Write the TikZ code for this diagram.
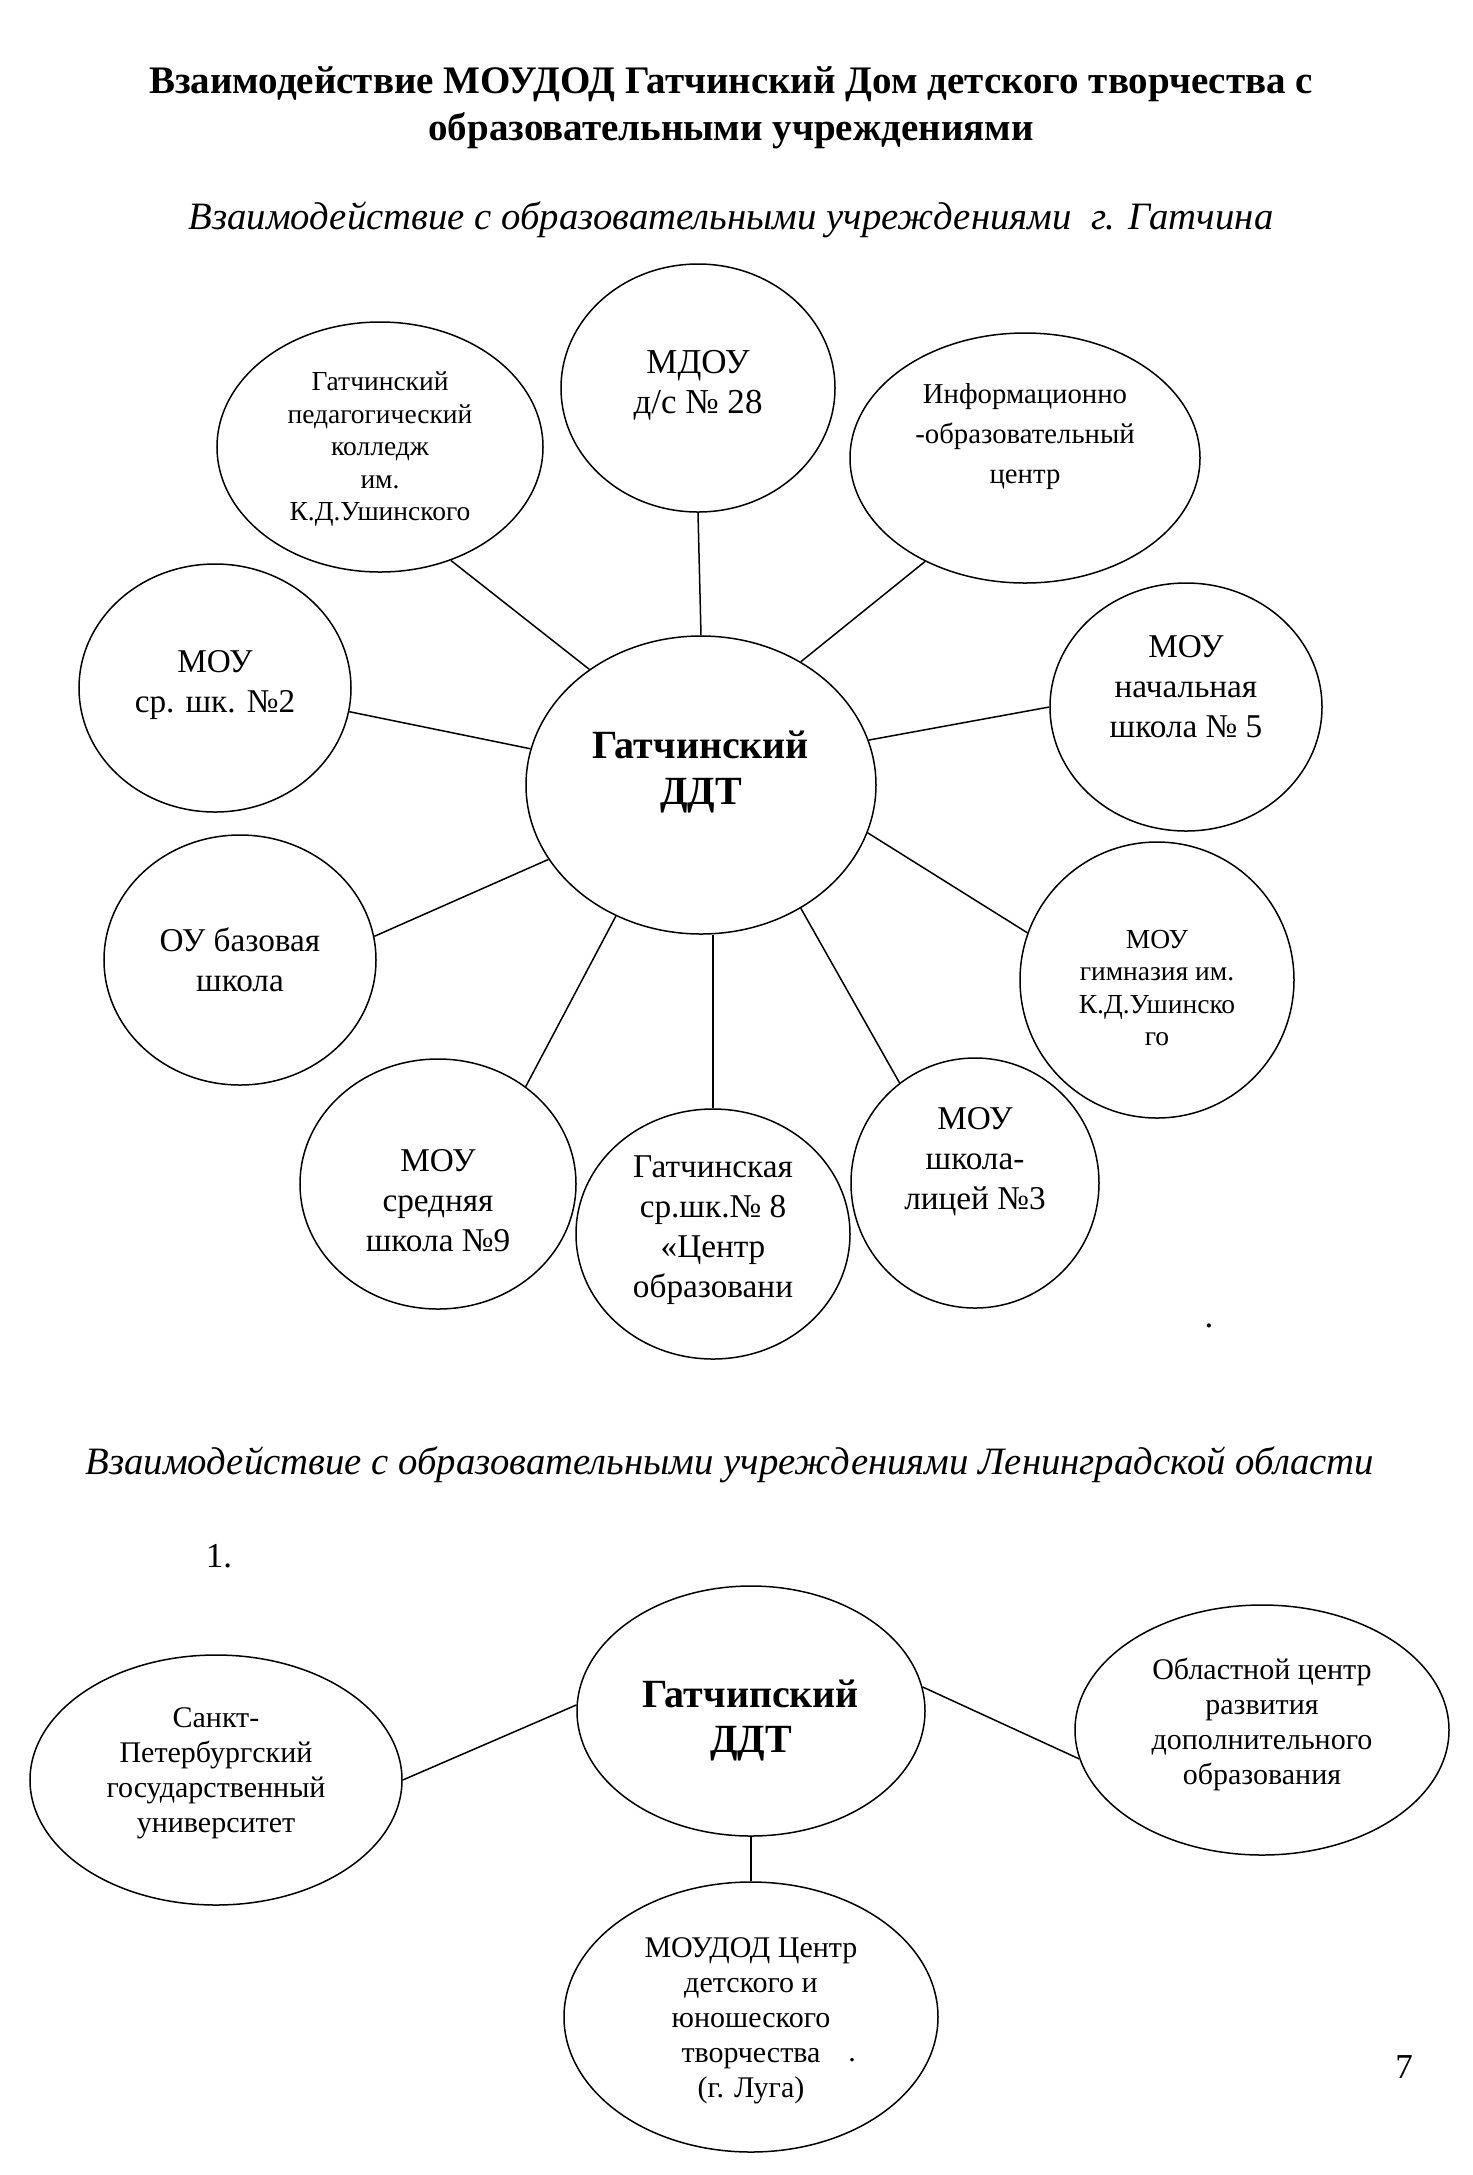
\documentclass[tikz,border=0pt]{standalone}
\usepackage{fontspec}
\setmainfont{Liberation Serif}
\usetikzlibrary{shapes.geometric}
\begin{document}
\begin{tikzpicture}[x=0.4pt,y=-0.4pt,
  oval/.style 2 args={ellipse, draw, line width=0.6pt, inner sep=0pt,
    minimum width=#1*0.8pt, minimum height=#2*0.8pt},
  big/.style={font=\fontsize{14}{16}\selectfont, align=center, inner sep=0pt},
  medb/.style={font=\fontsize{13.3}{16}\selectfont, align=center, inner sep=0pt},
  infs/.style={font=\fontsize{11.5}{16}\selectfont, align=center, inner sep=0pt},
  mid/.style={font=\fontsize{12}{14}\selectfont, align=center, inner sep=0pt},
  small/.style={font=\fontsize{11}{13}\selectfont, align=center, inner sep=0pt},
  hub/.style={font=\bfseries\fontsize{16}{18.5}\selectfont, align=center, inner sep=0pt},
  hubb/.style={font=\bfseries\fontsize{16}{18}\selectfont, align=center, inner sep=0pt},
  heading/.style={font=\bfseries\fontsize{15.6}{19}\selectfont, align=center, inner sep=0pt},
  subhead/.style={font=\itshape\fontsize{15.5}{18}\selectfont, inner sep=0pt},
  link/.style={line width=0.6pt}]
\useasboundingbox (0,0) rectangle (1473,2175);

% headings
\node[heading] (title) at (731,108) {Взаимодействие МОУДОД Гатчинский Дом детского творчества с\\образовательными учреждениями};
\node[subhead] (sub1) at (731,220) {Взаимодействие с образовательными учреждениями\ \ г. Гатчина};
\node[subhead] (sub2) at (730,1465) {Взаимодействие с образовательными учреждениями Ленинградской области};
\node[big] (num) at (219,1556) {1.};
\node[big] (page) at (1404,2067) {7};

% top section
\node[oval={175}{149}, label={[hub,yshift=5.2pt]center:{Гатчинский\\ДДТ}}] (C) at (701,785) {};
\node[oval={137}{124}, label={[big,yshift=1.2pt]center:{МДОУ\\д/с № 28}}] (m28) at (698,388) {};
\node[oval={163}{125}, label={[small,yshift=-0.8pt]center:{Гатчинский\\педагогический\\колледж\\им.\\К.Д.Ушинского}}] (ped) at (380,447) {};
\node[oval={175}{125}, label={[infs,yshift=8.6pt]center:{Информационно\\-образовательный\\центр}}] (inf) at (1025,458) {};
\node[oval={136}{124}, label={[medb,yshift=1.2pt]center:{МОУ\\ср. шк. №2}}] (s2) at (215,688) {};
\node[oval={136}{124}, label={[medb,yshift=8pt]center:{МОУ\\начальная\\школа № 5}}] (s5) at (1186,707) {};
\node[oval={136}{125}, label={[medb]center:{ОУ базовая\\школа}}] (ou) at (240,960) {};
\node[oval={137}{138}, label={[small,yshift=-3.2pt]center:{МОУ\\гимназия им.\\К.Д.Ушинско\\го}}] (gym) at (1157,980) {};
\node[oval={138}{125}, label={[medb,yshift=-6.8pt]center:{МОУ\\средняя\\школа №9}}] (s9) at (438,1184) {};
\node[oval={137}{125}, label={[medb,yshift=1.4pt]center:{Гатчинская\\ср.шк.№ 8\\«Центр\\образовани}}] (s8) at (713,1234) {};
\node[oval={124}{125}, label={[medb,yshift=8.6pt]center:{МОУ\\школа-\\лицей №3}}] (s3) at (975,1183) {};
\node[big] (dot1) at (1209,1326) {.};

\draw[link] (m28.south) -- (C.north);
\draw[link] (ped.-58.3) -- (C.134.2);
\draw[link] (inf.-134.7) -- (C.51.7);
\draw[link] (s2.-10.1) -- (C.168.2);
\draw[link] (s5.180) -- (C.15.6);
\draw[link] (ou.10.4) -- (C.206.4);
\draw[link] (gym.160.3) -- (C.-16.3);
\draw[link] (s9.48.4) -- (C.-123.4);
\draw[link] (s8.north) -- (C.south -| s8.north);
\draw[link] (s3.127) -- (C.-51.1);

% bottom section
\node[oval={174}{125}, label={[hubb,yshift=-3.8pt]center:{Гатчипский\\ДДТ}}] (D) at (751,1711) {};
\node[oval={186}{125}, label={[mid,yshift=2.7pt]center:{Санкт-\\Петербургский\\государственный\\университет}}] (spb) at (216,1780) {};
\node[oval={187}{125}, label={[mid,yshift=2.4pt]center:{Областной центр\\развития\\дополнительного\\образования}}] (obl) at (1262,1730) {};
\node[oval={187}{135}, label={[mid,yshift=-1.6pt]center:{МОУДОД Центр\\детского и\\юношеского\\творчества\\(г. Луга)}}] (luga) at (751,2017) {};
\node[mid] (dot2) at (852,2060) {.};

\draw[link] (spb.0) -- (D.178.7);
\draw[link] (obl.189.2) -- (D.8.6);
\draw[link] (D.south) -- (luga.north);
\end{tikzpicture}
\end{document}
